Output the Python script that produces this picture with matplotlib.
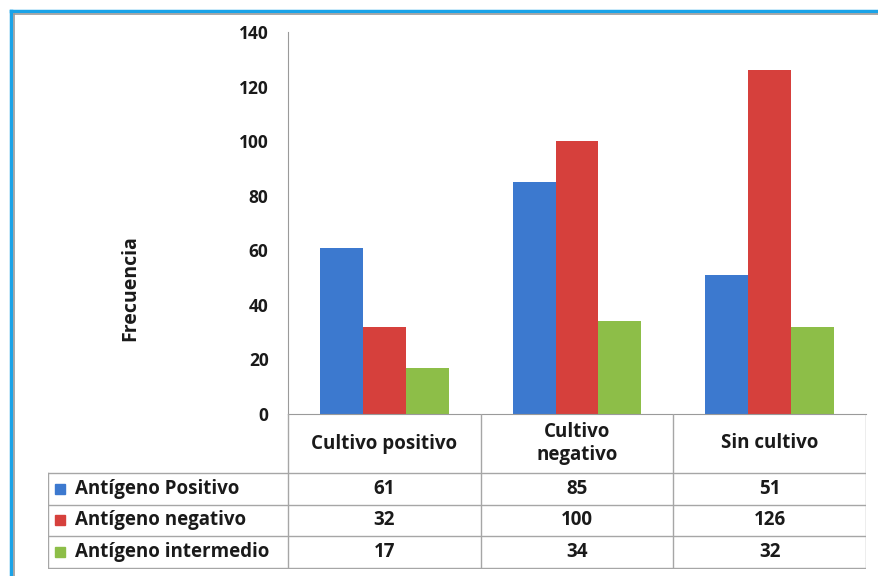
import numpy as np
import matplotlib.pyplot as plt
from matplotlib.lines import Line2D
from matplotlib.patches import Rectangle

# Datos
categorias = ["Cultivo positivo", "Cultivo\nnegativo", "Sin cultivo"]
series = ["Antígeno Positivo", "Antígeno negativo", "Antígeno intermedio"]
ag_positivo = [61, 85, 51]
ag_negativo = [32, 100, 126]
ag_intermedio = [17, 34, 32]
valores = [ag_positivo, ag_negativo, ag_intermedio]
colores = ["#3C79CF", "#D6403C", "#8DBE48"]
yticks = [0, 20, 40, 60, 80, 100, 120, 140]

W, H = 879, 576
plt.rcParams['font.family'] = ['Open Sans', 'DejaVu Sans']
fig = plt.figure(figsize=(W / 100, H / 100), dpi=100)
fig.patch.set_facecolor("white")
negro = "#1a1a1a"
peso = "bold"
letra = 13.5

def caja(x0, y0, x1, y1):
    # rectángulo en píxeles (origen arriba a la izquierda) -> coordenadas de figura
    return [x0 / W, 1 - y1 / H, (x1 - x0) / W, (y1 - y0) / H]

# Marco exterior
fig.add_artist(Line2D([11 / W, 1], [1 - 11 / H] * 2, color="#1AA3E8", lw=2.5))
fig.add_artist(Line2D([11 / W] * 2, [0, 1 - 11 / H], color="#1AA3E8", lw=2.5))
fig.add_artist(Line2D([14 / W, 1], [1 - 14 / H] * 2, color="#9A9A9A", lw=1.2))
fig.add_artist(Line2D([14 / W] * 2, [0, 1 - 14 / H], color="#9A9A9A", lw=1.2))

# Gráfico de barras
x_izq, x_der, y_sup, y_inf = 288, 866, 32, 414
ax = fig.add_axes(caja(x_izq, y_sup, x_der, y_inf))
x = np.arange(len(categorias))
ancho = 0.223
for i, (vals, col) in enumerate(zip(valores, colores)):
    ax.bar(x + (i - 1) * ancho, vals, ancho, color=col, edgecolor="none")
ax.set_xlim(-0.5, len(categorias) - 0.5)
ax.set_ylim(0, 140)
ax.set_yticks(yticks)
ax.tick_params(axis="y", length=0, pad=14, labelsize=12.5, labelcolor=negro)
for t in ax.get_yticklabels():
    t.set_fontweight(peso)
ax.set_xticks([])
for lado in ["top", "right"]:
    ax.spines[lado].set_visible(False)
ax.spines["left"].set_color("#9A9A9A")
ax.spines["bottom"].set_color("#9A9A9A")

fig.text(130 / W, 1 - 288 / H, "Frecuencia", rotation=90, ha="center", va="center",
         fontsize=14, fontweight=peso, color=negro)

# Tabla de datos
x_tab, y_cab, alto_fila = 48, 473, 31.5
tab = fig.add_axes(caja(x_tab, y_inf, x_der, y_cab + alto_fila * 3 + 1))
tab.set_xlim(x_tab, x_der)
tab.set_ylim(y_cab + alto_fila * 3 + 1, y_inf)
tab.axis("off")
ancho_col = (x_der - x_izq) / len(categorias)
gris = "#A6A6A6"
y_fin = y_cab + alto_fila * 3
for j in range(len(categorias) + 1):
    tab.plot([x_izq + j * ancho_col] * 2, [y_inf, y_fin], color=gris, lw=1)
tab.plot([x_tab, x_tab], [y_cab, y_fin], color=gris, lw=1)
for k in range(4):
    yy = y_cab + k * alto_fila
    tab.plot([x_tab, x_der], [yy, yy], color=gris, lw=1)

for j, cat in enumerate(categorias):
    tab.text(x_izq + (j + 0.5) * ancho_col, (y_inf + y_cab) / 2, cat, ha="center",
             va="center", fontsize=letra, fontweight=peso, color=negro, linespacing=1.2)

for i, (nombre, vals, col) in enumerate(zip(series, valores, colores)):
    yc = y_cab + (i + 0.5) * alto_fila
    tab.add_patch(Rectangle((55, yc - 5), 10, 10, color=col))
    tab.text(75, yc, nombre, ha="left", va="center", fontsize=letra,
             fontweight=peso, color=negro)
    for j, v in enumerate(vals):
        tab.text(x_izq + (j + 0.5) * ancho_col, yc, str(v), ha="center", va="center",
                 fontsize=letra, fontweight=peso, color=negro)

fig.savefig("out.png", dpi=100)
